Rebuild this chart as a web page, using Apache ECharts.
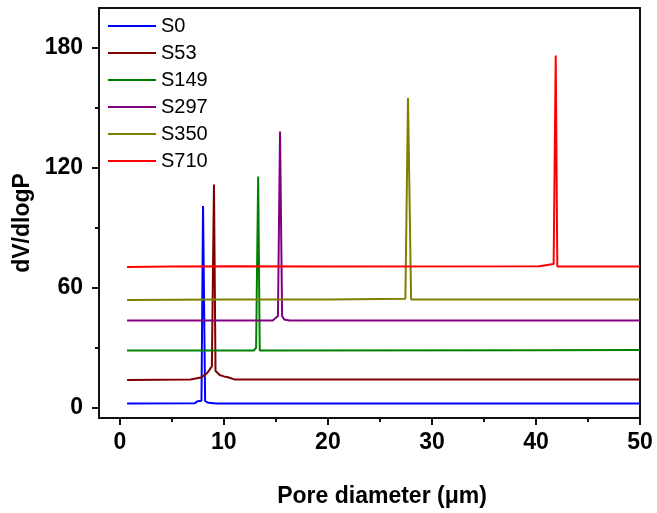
<!DOCTYPE html>
<html>
<head>
<meta charset="utf-8">
<script src="https://cdn.jsdelivr.net/npm/echarts@6/dist/echarts.min.js"></script>
<style>
  html, body { margin: 0; padding: 0; background: #fff; }
  #chart { width: 657px; height: 513px; }
</style>
</head>
<body>
<div id="chart"></div>
<script>
// [pore diameter, dV/dlogP] pairs
var names = ['S0', 'S53', 'S149', 'S297', 'S350', 'S710'];
var s0 = [[0.7, 2.3], [7.2, 2.4], [7.5, 3.4], [7.85, 3.6], [8.0, 101], [8.2, 3.5], [8.5, 2.6], [9.3, 2.3], [50, 2.3]];
var s53 = [[0.7, 14.0], [6.8, 14.3], [7.8, 15.2], [8.4, 17.5], [8.85, 20.8], [9.05, 111.7], [9.2, 18.5], [9.6, 16.5], [10.0, 15.8], [10.4, 15.4], [11.0, 14.3], [50, 14.2]];
var s149 = [[0.7, 28.7], [12.9, 28.8], [13.1, 30.2], [13.3, 115.7], [13.45, 28.8], [40, 28.9], [50, 29.0]];
var s297 = [[0.7, 43.7], [14.7, 43.8], [15.2, 46.0], [15.4, 138.3], [15.6, 46.0], [15.8, 44.2], [16.3, 43.7], [50, 43.7]];
var s350 = [[0.7, 54.0], [10, 54.3], [20, 54.2], [27.45, 54.6], [27.7, 155], [28.0, 54.3], [50, 54.2]];
var s710 = [[0.7, 70.5], [5, 70.8], [11, 70.9], [20, 70.7], [40.3, 70.9], [41.7, 72.0], [41.9, 176.2], [42.05, 70.8], [50, 70.7]];
var colors = ['#0000ff', '#800000', '#008000', '#800080', '#808000', '#ff0000'];

var xTicks = [0, 10, 20, 30, 40, 50];
var xMinor = [5, 15, 25, 35, 45];
var yTicks = [0, 60, 120, 180];
var yMinor = [30, 90, 150];

var chart = echarts.init(document.getElementById('chart'));
var font = 'Liberation Sans, Arial, sans-serif';
var axisLine = { show: true, onZero: false, lineStyle: { color: '#111', width: 2 } };
var noLine = { show: false, onZero: false };
var labelStyle = { fontFamily: font, fontWeight: 'bold', fontSize: 23, color: '#000' };

var allData = [s0, s53, s149, s297, s350, s710];
var series = allData.map(function (d, i) {
  return {
    name: names[i],
    type: 'line',
    data: d,
    symbol: 'none',
    lineStyle: { width: 2, color: colors[i] },
    itemStyle: { color: colors[i] },
    animation: false
  };
});

var option = {
  animation: false,
  grid: { left: 99, right: 17, top: 8, bottom: 94 },
  legend: {
    orient: 'vertical',
    left: 103,
    top: 11,
    icon: 'rect',
    itemWidth: 48,
    itemHeight: 2,
    itemGap: 7,
    textStyle: { fontFamily: font, fontSize: 20, color: '#000', lineHeight: 20 },
    data: names
  },
  xAxis: [
    {
      type: 'value', min: -2, max: 50, position: 'bottom',
      name: 'Pore diameter (\u03bcm)', nameLocation: 'middle', nameGap: 67,
      nameTextStyle: { fontFamily: font, fontWeight: 'bold', fontSize: 23, color: '#000', padding: [0, 0, 0, 25] },
      axisLine: axisLine,
      axisTick: { show: true, customValues: xTicks, length: 7, lineStyle: { color: '#111', width: 2 } },
      axisLabel: Object.assign({ customValues: xTicks, margin: 13 }, labelStyle),
      splitLine: { show: false }
    },
    {
      type: 'value', min: -2, max: 50, position: 'bottom',
      axisLine: noLine,
      axisTick: { show: true, customValues: xMinor, length: 4, lineStyle: { color: '#111', width: 2 } },
      axisLabel: { show: false },
      splitLine: { show: false }
    },
    {
      type: 'value', min: -2, max: 50, position: 'top',
      axisLine: axisLine, axisTick: { show: false }, axisLabel: { show: false }, splitLine: { show: false }
    }
  ],
  yAxis: [
    {
      type: 'value', min: -5, max: 200, position: 'left',
      name: 'dV/dlogP', nameLocation: 'middle', nameGap: 65,
      nameTextStyle: { fontFamily: font, fontWeight: 'bold', fontSize: 23, color: '#000', padding: [0, 20, 0, 0] },
      axisLine: axisLine,
      axisTick: { show: true, customValues: yTicks, length: 7, lineStyle: { color: '#111', width: 2 } },
      axisLabel: Object.assign({ customValues: yTicks, margin: 16 }, labelStyle),
      splitLine: { show: false }
    },
    {
      type: 'value', min: -5, max: 200, position: 'left',
      axisLine: noLine,
      axisTick: { show: true, customValues: yMinor, length: 4, lineStyle: { color: '#111', width: 2 } },
      axisLabel: { show: false },
      splitLine: { show: false }
    },
    {
      type: 'value', min: -5, max: 200, position: 'right',
      axisLine: axisLine, axisTick: { show: false }, axisLabel: { show: false }, splitLine: { show: false }
    }
  ],
  series: series
};
chart.setOption(option);
</script>
</body>
</html>
